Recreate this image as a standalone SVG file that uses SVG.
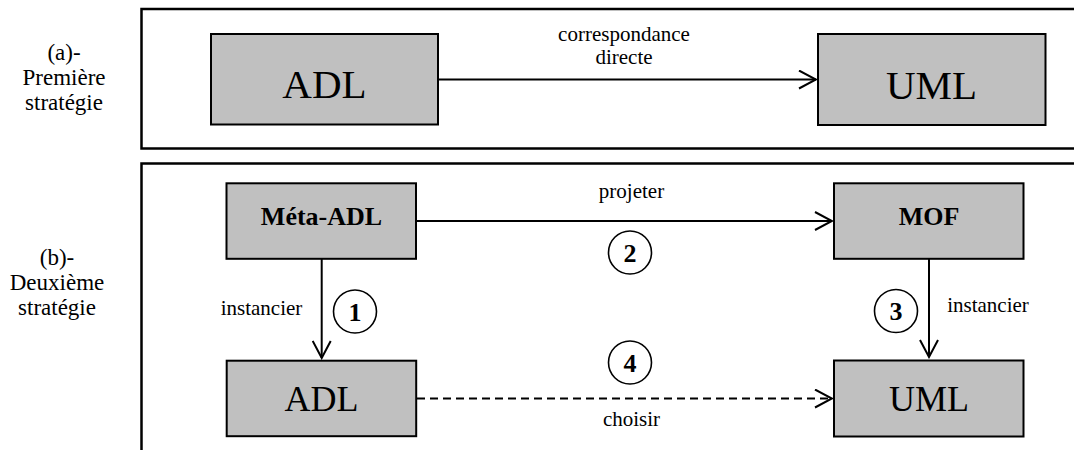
<svg xmlns="http://www.w3.org/2000/svg" width="1074" height="450" viewBox="0 0 1074 450">
  <style>
    .frame { fill: none; stroke: #000; stroke-width: 2.5; }
    .box { fill: #c0c0c0; stroke: #000; stroke-width: 2; }
    .edge { fill: none; stroke: #000; stroke-width: 2; }
    .dash { stroke-dasharray: 8 5; }
    .circ { fill: #fff; stroke: #000; stroke-width: 1.6; }
    text { font-family: "Liberation Serif", "Times New Roman", serif; fill: #000; text-anchor: middle; }
    .side { font-size: 23px; }
    .lbl { font-size: 21px; }
    .big { font-size: 41px; }
    .mid { font-size: 36px; }
    .bold { font-size: 26px; font-weight: bold; }
    .num { font-size: 26px; font-weight: bold; }
  </style>
  <defs>
    <marker id="arr" viewBox="0 0 20 20" refX="18" refY="10" markerWidth="20" markerHeight="20" markerUnits="userSpaceOnUse" orient="auto">
      <path d="M1,1 L18,10 L1,19" fill="none" stroke="#000" stroke-width="2"/>
    </marker>
  </defs>

  <!-- frames -->
  <g id="frames">
    <path class="frame" d="M1076,9 H141.5 V148.5 H1076"/>
    <path class="frame" d="M1076,163.5 H141.5 V452"/>
  </g>

  <!-- side labels -->
  <g id="label-a">
    <text class="side" x="64" y="60">(a)-</text>
    <text class="side" x="64" y="85">Première</text>
    <text class="side" x="64" y="110">stratégie</text>
  </g>
  <g id="label-b">
    <text class="side" x="57" y="265">(b)-</text>
    <text class="side" x="57" y="290">Deuxième</text>
    <text class="side" x="57" y="315">stratégie</text>
  </g>

  <!-- connectors -->
  <g id="connectors">
    <line class="edge" x1="438" y1="79.5" x2="816" y2="79.5" marker-end="url(#arr)"/>
    <line class="edge" x1="416" y1="221" x2="832" y2="221" marker-end="url(#arr)"/>
    <line class="edge" x1="321.7" y1="259" x2="321.7" y2="358" marker-end="url(#arr)"/>
    <line class="edge" x1="929" y1="259" x2="929" y2="357" marker-end="url(#arr)"/>
    <line class="edge dash" x1="417" y1="398.5" x2="832" y2="398.5" marker-end="url(#arr)"/>
  </g>

  <!-- connector labels -->
  <g id="edge-labels">
    <text class="lbl" x="624" y="41">correspondance</text>
    <text class="lbl" x="624" y="64">directe</text>
    <text class="lbl" x="631.5" y="198">projeter</text>
    <text class="lbl" x="261.5" y="315">instancier</text>
    <text class="lbl" x="988" y="312">instancier</text>
    <text class="lbl" x="631.5" y="426">choisir</text>
  </g>

  <!-- step circles -->
  <g id="step-1">
    <circle class="circ" cx="355" cy="311.5" r="21.5"/>
    <text class="num" x="355" y="320.5">1</text>
  </g>
  <g id="step-2">
    <circle class="circ" cx="630" cy="252.5" r="21.5"/>
    <text class="num" x="630" y="261.5">2</text>
  </g>
  <g id="step-3">
    <circle class="circ" cx="896" cy="311" r="21.5"/>
    <text class="num" x="896" y="320">3</text>
  </g>
  <g id="step-4">
    <circle class="circ" cx="630" cy="362.5" r="21.5"/>
    <text class="num" x="630" y="371.5">4</text>
  </g>

  <!-- nodes -->
  <g id="adl-a">
    <rect class="box" x="211" y="34" width="227" height="90.5"/>
    <text class="big" x="324.5" y="98">ADL</text>
  </g>
  <g id="uml-a">
    <rect class="box" x="818" y="34" width="227.5" height="91"/>
    <text class="big" x="931.5" y="98.5">UML</text>
  </g>
  <g id="meta-adl">
    <rect class="box" x="226.5" y="183.3" width="189.5" height="75.5"/>
    <text class="bold" x="321.5" y="225">Méta-ADL</text>
  </g>
  <g id="mof">
    <rect class="box" x="834" y="183.3" width="189.5" height="75.5"/>
    <text class="bold" x="929" y="224.5">MOF</text>
  </g>
  <g id="adl-b">
    <rect class="box" x="226.7" y="360.7" width="189.5" height="75.5"/>
    <text class="mid" x="321.5" y="410.5">ADL</text>
  </g>
  <g id="uml-b">
    <rect class="box" x="834" y="360.5" width="189.5" height="76"/>
    <text class="mid" x="929" y="410.5">UML</text>
  </g>
</svg>
